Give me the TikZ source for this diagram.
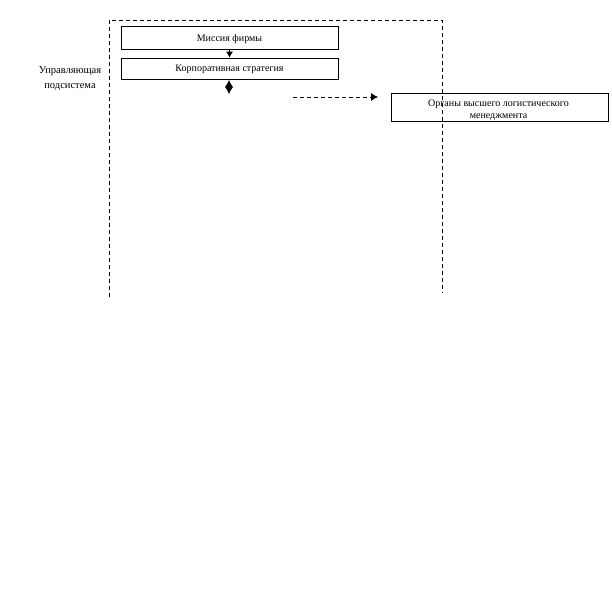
\documentclass[tikz,border=0pt]{standalone}
\usepackage{fontspec}
\setmainfont{Liberation Serif}
\usetikzlibrary{arrows.meta}
\begin{document}
\begin{tikzpicture}[x=1pt,y=-1pt,
  box/.style={draw,line width=0.8pt,inner sep=0pt},
  txt/.style={inner sep=0pt,anchor=base,font=\fontsize{10}{12}\selectfont},
  frame/.style={draw,line width=0.8pt,dash pattern=on 4pt off 3pt},
  lbl/.style={inner sep=0pt,anchor=base,font=\fontsize{10.5}{15}\selectfont}]
\useasboundingbox (0,0) rectangle (611,616);
\draw[frame] (109,297) -- (109,20) -- (442,20) -- (442,293);
\node[box,minimum width=217pt,minimum height=23pt] (mis) at (229.5,37.5) {};
\node[box,minimum width=217pt,minimum height=21pt] (corp) at (229.5,68.5) {};
\node[box,minimum width=217pt,minimum height=28pt] (org) at (499.5,107) {};
\node[txt] (mist) at (229.5,41) {Миссия фирмы};
\node[txt] (corpt) at (229.5,71) {Корпоративная стратегия};
\node[txt] (orgt1) at (498.5,106) {Органы высшего логистического};
\node[txt] (orgt2) at (498.5,118) {менеджмента};
\node[lbl] (ups1) at (70,73.5) {Управляющая};
\node[lbl] (ups2) at (70,88) {подсистема};
\coordinate (d1) at (229,80);
\coordinate (d2) at (229,94);
\coordinate (a1) at (293,97);
\coordinate (a2) at (378,97);
\draw[-{Latex[length=6pt,width=7pt]},line width=0.8pt] (mis.south) -- (corp.north);
\draw[{Latex[length=7pt,width=8pt]}-{Latex[length=7pt,width=8pt]},line width=0.8pt] (d1) -- (d2);
\draw[frame,-{Latex[length=7pt,width=8pt]}] (a1) -- (a2);
\end{tikzpicture}
\end{document}
